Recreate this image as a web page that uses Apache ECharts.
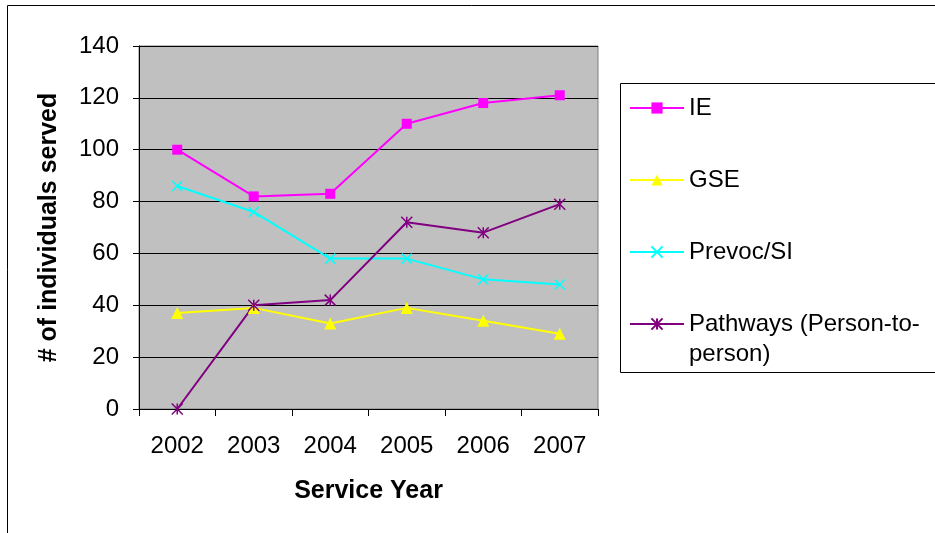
<!DOCTYPE html>
<html>
<head>
<meta charset="utf-8">
<script src="https://cdn.jsdelivr.net/npm/echarts@6/dist/echarts.min.js"></script>
<style>
  html, body { margin: 0; padding: 0; background: #fff; }
  #chart { width: 935px; height: 533px; }
</style>
</head>
<body>
<div id="chart"></div>
<script>
const years = ['2002', '2003', '2004', '2005', '2006', '2007']
const ieData = [100, 82, 83, 110, 118, 121]
const gseData = [37, 39, 33, 39, 34, 29]
const prevocData = [86, 76, 58, 58, 50, 48]
const pathwaysData = [0, 40, 42, 72, 68, 79]
const yTicks = { min: 0, max: 140, step: 20 }

const font = 'Liberation Sans, Arial, sans-serif'
// 叉号和星号用路径画
const crossPath = 'path://M0,0L10,10M10,0L0,10'
const starPath = 'path://M0,0L10,10M10,0L0,10M5,0L5,10'

const chart = echarts.init(document.getElementById('chart'))

function lineSeries(name, data, color, symbol, size, stroke) {
    return {
        name: name,
        type: 'line',
        data: data,
        symbol: symbol,
        symbolSize: size,
        lineStyle: { color: color, width: 2 },
        itemStyle: stroke
            ? { color: color, borderColor: color, borderWidth: 1.5 }
            : { color: color, borderWidth: 0 },
        emphasis: { disabled: true },
        animation: false
    }
}

chart.setOption({
    backgroundColor: '#fff',
    textStyle: { fontFamily: font },
    graphic: [
        {
            type: 'rect',
            shape: { x: 7.5, y: 5.5, width: 1000, height: 1000 },
            style: { fill: 'none', stroke: '#000', lineWidth: 1 },
            z: -10
        },
        {
            type: 'rect',
            shape: { x: 620.5, y: 83.5, width: 400, height: 289 },
            style: { fill: '#fff', stroke: '#000', lineWidth: 1 },
            z: -5
        }
    ],
    legend: [
        {
            data: ['IE', 'GSE', 'Prevoc/SI'],
            orient: 'vertical',
            left: 629,
            top: 96,
            itemWidth: 54,
            itemHeight: 14,
            itemGap: 48,
            padding: 0,
            selectedMode: false,
            textStyle: { fontSize: 24, lineHeight: 24, color: '#000', fontFamily: font }
        },
        {
            data: ['Pathways (Person-to-person)'],
            orient: 'vertical',
            left: 629,
            top: 279,
            itemWidth: 54,
            itemHeight: 14,
            padding: 0,
            selectedMode: false,
            // 前面空一行，让图标对齐第一行文字
            formatter: () => '\nPathways (Person-to-\nperson)',
            textStyle: { fontSize: 24, lineHeight: 30, color: '#000', fontFamily: font }
        }
    ],
    grid: {
        left: 139,
        right: 337,
        top: 46,
        bottom: 124,
        show: true,
        backgroundColor: '#C0C0C0',
        borderColor: '#808080',
        borderWidth: 1
    },
    xAxis: {
        type: 'category',
        data: years,
        boundaryGap: true,
        name: 'Service Year',
        nameLocation: 'middle',
        nameGap: 70,
        nameTextStyle: { fontSize: 25, fontWeight: 'bold', color: '#000', fontFamily: font },
        axisLine: { lineStyle: { color: '#000', width: 1 } },
        axisTick: { show: true, length: 7, lineStyle: { color: '#000' } },
        axisLabel: { fontSize: 24, color: '#000', margin: 25, fontFamily: font },
        splitLine: { show: false }
    },
    yAxis: {
        type: 'value',
        min: yTicks.min,
        max: yTicks.max,
        interval: yTicks.step,
        name: '# of individuals served',
        nameLocation: 'middle',
        nameGap: 77,
        nameTextStyle: { fontSize: 25, fontWeight: 'bold', color: '#000', fontFamily: font },
        axisLine: { show: true, lineStyle: { color: '#000', width: 1 } },
        axisTick: { show: true, length: 6, lineStyle: { color: '#000' } },
        axisLabel: { fontSize: 24, color: '#000', margin: 20, fontFamily: font },
        splitLine: { show: true, lineStyle: { color: '#000', width: 1 } }
    },
    series: [
        lineSeries('IE', ieData, '#FF00FF', 'rect', 10, false),
        lineSeries('GSE', gseData, '#FFFF00', 'triangle', 12, false),
        lineSeries('Prevoc/SI', prevocData, '#00FFFF', crossPath, 10, true),
        lineSeries('Pathways (Person-to-person)', pathwaysData, '#800080', starPath, 11, true)
    ]
})
</script>
</body>
</html>
